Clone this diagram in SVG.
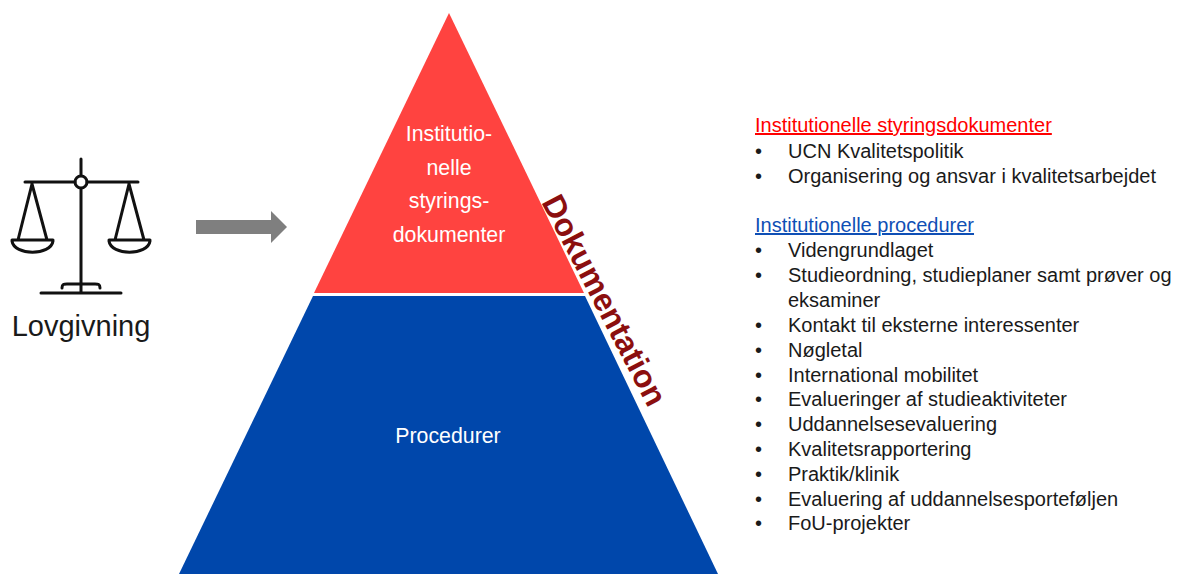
<svg xmlns="http://www.w3.org/2000/svg" width="1185" height="574" viewBox="0 0 1185 574">
<style>
text{font-family:"Liberation Sans",Arial,sans-serif}
.l{font-size:20px;fill:#1a1a1a}
.w{font-size:21.3px;fill:#fff;text-anchor:middle}
.ic{fill:none;stroke:#111;stroke-width:3;stroke-linecap:round;stroke-linejoin:round}
</style>
<rect width="1185" height="574" fill="#fff"/>
<g id="lovgivning">
<path class="ic" d="M81 159V175M81 189V293M25 182H75M87 182H138M32 184L18 240M32 184L47 240M129 184L115 240M129 184L144 240M12 240H53M109 240H150M12 241C14 256 51 256 53 241M109 241C111 256 148 256 150 241M41 293H121M62 288C62 284 64 284 67 284H95C98 284 100 284 100 288"/>
<circle class="ic" cx="81" cy="182" r="6"/>
<text x="81" y="336" font-size="29" fill="#1a1a1a" text-anchor="middle">Lovgivning</text>
</g>
<g id="connectors">
<path d="M196 220H271V211L287 227L271 243V234H196Z" fill="#7f7f7f"/>
</g>
<g id="styring">
<path d="M449 13L584 293H314Z" fill="#ff4340"/>
<text class="w" x="449" y="141">Institutio-</text>
<text class="w" x="449" y="175">nelle</text>
<text class="w" x="449" y="208">styrings-</text>
<text class="w" x="449" y="242">dokumenter</text>
</g>
<g id="procedurer">
<path d="M313 296H585L718 574H179Z" fill="#0047ab"/>
<text class="w" x="448" y="443">Procedurer</text>
</g>
<g id="dokumentation">
<text transform="translate(541 202) rotate(62.5)" font-size="32" font-weight="bold" fill="#8b0f0f">Dokumentation</text>
</g>
<g id="liste">
<text x="755" y="132" font-size="20" fill="#f00" text-decoration="underline">Institutionelle styringsdokumenter</text>
<text class="l" x="755" y="158">•</text><text class="l" x="788" y="158">UCN Kvalitetspolitik</text>
<text class="l" x="755" y="183">•</text><text class="l" x="788" y="183">Organisering og ansvar i kvalitetsarbejdet</text>
<text x="755" y="232" font-size="20" fill="#0f4fb5" text-decoration="underline">Institutionelle procedurer</text>
<text class="l" x="755" y="257">•</text><text class="l" x="788" y="257">Videngrundlaget</text>
<text class="l" x="755" y="282">•</text><text class="l" x="788" y="282">Studieordning, studieplaner samt prøver og</text>
<text class="l" x="788" y="307">eksaminer</text>
<text class="l" x="755" y="332">•</text><text class="l" x="788" y="332">Kontakt til eksterne interessenter</text>
<text class="l" x="755" y="357">•</text><text class="l" x="788" y="357">Nøgletal</text>
<text class="l" x="755" y="382">•</text><text class="l" x="788" y="382">International mobilitet</text>
<text class="l" x="755" y="406">•</text><text class="l" x="788" y="406">Evalueringer af studieaktiviteter</text>
<text class="l" x="755" y="431">•</text><text class="l" x="788" y="431">Uddannelsesevaluering</text>
<text class="l" x="755" y="456">•</text><text class="l" x="788" y="456">Kvalitetsrapportering</text>
<text class="l" x="755" y="481">•</text><text class="l" x="788" y="481">Praktik/klinik</text>
<text class="l" x="755" y="506">•</text><text class="l" x="788" y="506">Evaluering af uddannelsesporteføljen</text>
<text class="l" x="755" y="530">•</text><text class="l" x="788" y="530">FoU-projekter</text>
</g>
</svg>
